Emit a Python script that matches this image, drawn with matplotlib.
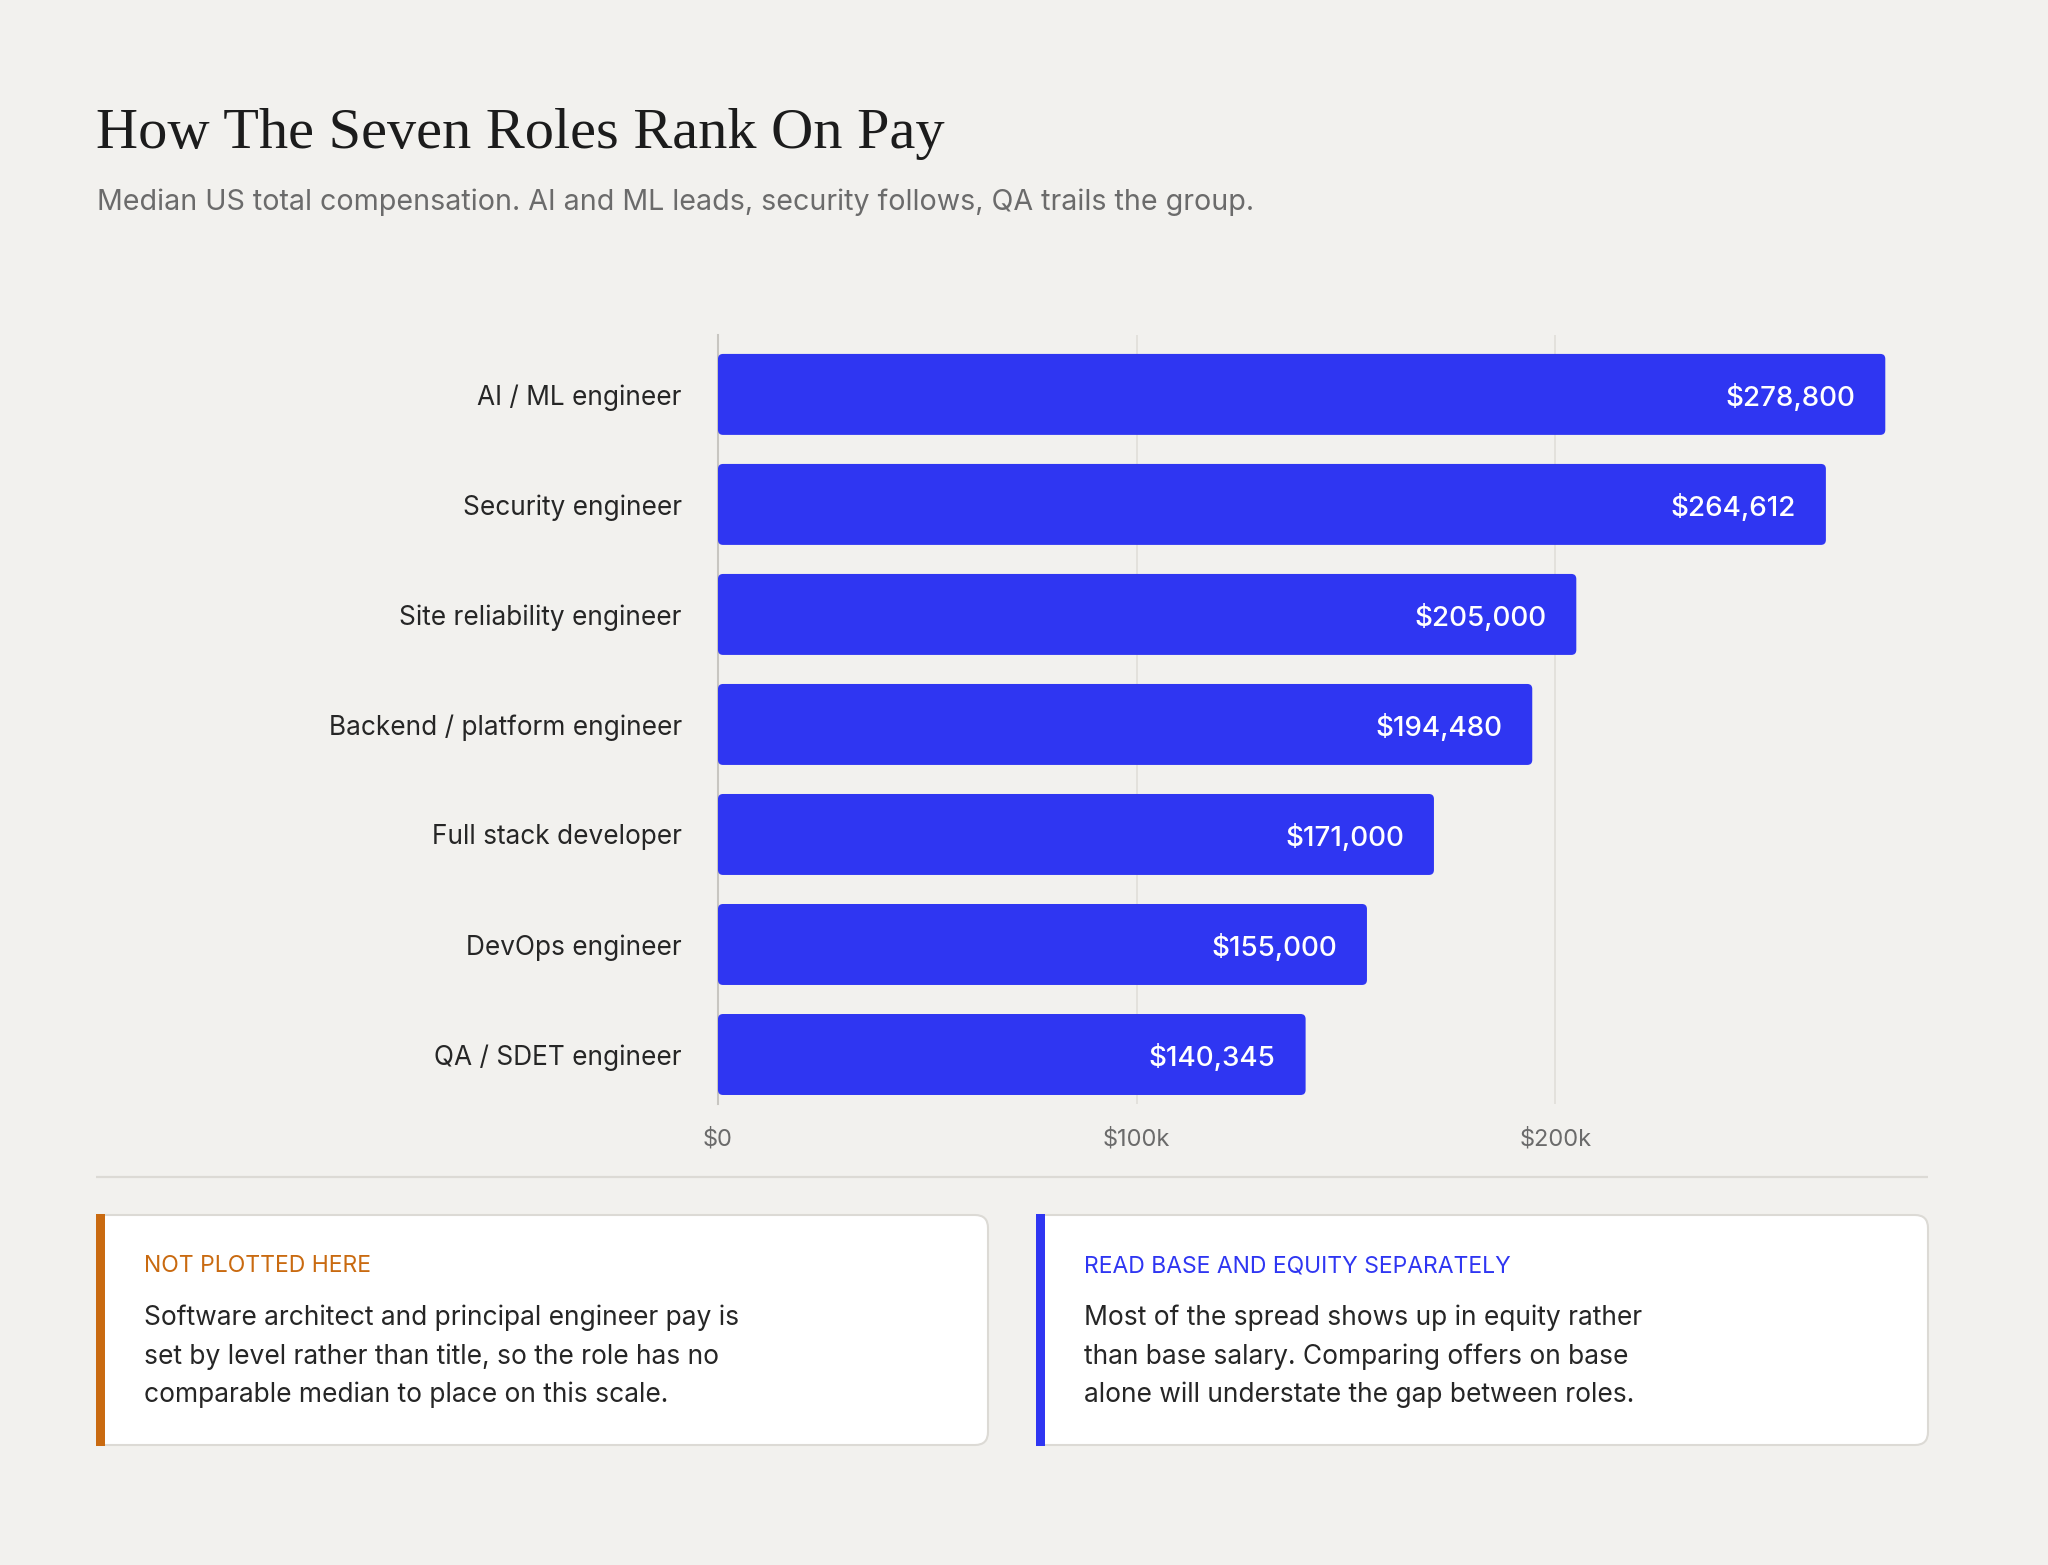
import matplotlib
matplotlib.use("Agg")
import matplotlib.pyplot as plt
from matplotlib.patches import FancyBboxPatch, Rectangle

# ---------------- data ----------------
roles = [
    "AI / ML engineer",
    "Security engineer",
    "Site reliability engineer",
    "Backend / platform engineer",
    "Full stack developer",
    "DevOps engineer",
    "QA / SDET engineer",
]
pay = [278800, 264612, 205000, 194480, 171000, 155000, 140345]
tick_values = [0, 100000, 200000]
tick_labels = ["$0", "$100k", "$200k"]

title = "How The Seven Roles Rank On Pay"
subtitle = "Median US total compensation. AI and ML leads, security follows, QA trails the group."

card_headings = ["NOT PLOTTED HERE", "READ BASE AND EQUITY SEPARATELY"]
card_bodies = [
    ["Software architect and principal engineer pay is",
     "set by level rather than title, so the role has no",
     "comparable median to place on this scale."],
    ["Most of the spread shows up in equity rather",
     "than base salary. Comparing offers on base",
     "alone will understate the gap between roles."],
]

# ---------------- style ----------------
BG = "#f2f1ee"
BLUE = "#2f36f2"
ORANGE = "#c96a10"
TEXT = "#262626"
MUTED = "#6b6b6b"
GRID = "#e2e0db"
SPINE = "#c8c6c1"
BORDER = "#dcdad5"
SANS = ["Inter", "DejaVu Sans"]
SERIF = ["Liberation Serif", "DejaVu Serif"]

W, H = 2048, 1565
fig = plt.figure(figsize=(W / 100, H / 100), dpi=100, facecolor=BG)

# chart axes (pixel box: x 718..1928, y 335..1104)
ax_l, ax_r, ax_t, ax_b = 718, 1928, 335, 1104
ax = fig.add_axes([ax_l / W, 1 - ax_b / H, (ax_r - ax_l) / W, (ax_b - ax_t) / H])
ax.set_facecolor(BG)
XMAX = 289000
ax.set_xlim(0, XMAX)
ax.set_ylim(6.45, -0.54)

ypos = list(range(len(roles)))
bars = ax.barh(ypos, pay, height=0.736, color=BLUE)

px_x = XMAX / (ax_r - ax_l)
px_y = (6.45 + 0.54) / (ax_b - ax_t)
radius_px = 5
for b in bars:
    b.set_visible(False)
    p = FancyBboxPatch(
        (b.get_x(), b.get_y()), b.get_width(), b.get_height(),
        boxstyle=f"round,pad=0,rounding_size={radius_px * px_x}",
        mutation_aspect=px_y / px_x,
        fc=BLUE, ec="none", zorder=3,
    )
    ax.add_patch(p)

for i, v in enumerate(pay):
    ax.text(v - 30 * px_x, i + 12 * px_y, f"${v:,}", ha="right", va="baseline",
            color="white", fontsize=20, family=SANS, fontweight="medium", zorder=4)

ax.set_yticks(ypos, roles)
ax.set_xticks(tick_values, tick_labels)
ax.tick_params(axis="y", length=0, pad=26, labelsize=18.9, labelcolor=TEXT)
ax.tick_params(axis="x", length=0, pad=17.5, labelsize=17, labelcolor=MUTED)
for lab in ax.get_yticklabels() + ax.get_xticklabels():
    lab.set_family(SANS)

ax.grid(axis="x", color=GRID, lw=1.3)
ax.grid(axis="y", visible=False)
ax.set_axisbelow(True)
for s in ["top", "right", "bottom"]:
    ax.spines[s].set_visible(False)
ax.spines["left"].set_color(SPINE)
ax.spines["left"].set_linewidth(1.5)

# overlay axes in pixel coordinates
ov = fig.add_axes([0, 0, 1, 1])
ov.set_xlim(0, W)
ov.set_ylim(H, 0)
ov.axis("off")
ov.patch.set_alpha(0)

ov.text(96, 148, title, family=SERIF, fontsize=42, color="#1c1c1c", va="baseline")
ov.text(97, 210, subtitle, family=SANS, fontsize=20.6, color=MUTED, va="baseline")

ov.plot([96, 1928], [1177, 1177], color=BORDER, lw=1.6, solid_capstyle="butt")

cards = [(96, 988, ORANGE), (1036, 1928, BLUE)]
cy0, cy1 = 1215, 1445
for (x0, x1, col), head, body in zip(cards, card_headings, card_bodies):
    card = FancyBboxPatch((x0 - 30, cy0), x1 - x0 + 30, cy1 - cy0,
                          boxstyle="round,pad=0,rounding_size=13",
                          fc="white", ec=BORDER, lw=1.5)
    ov.add_patch(card)
    clip = Rectangle((x0, cy0 - 10), x1 - x0 + 20, cy1 - cy0 + 20, transform=ov.transData)
    card.set_clip_path(clip)
    ov.add_patch(Rectangle((x0, cy0 - 1), 9, cy1 - cy0 + 2, fc=col, ec="none"))
    ov.text(x0 + 48, 1272, head, family=SANS, fontsize=16.5, color=col, va="baseline")
    for k, line in enumerate(body):
        ov.text(x0 + 48, 1325 + k * 38.5, line, family=SANS, fontsize=19,
                color=TEXT, va="baseline")

fig.savefig("out.png", dpi=100, facecolor=BG)
